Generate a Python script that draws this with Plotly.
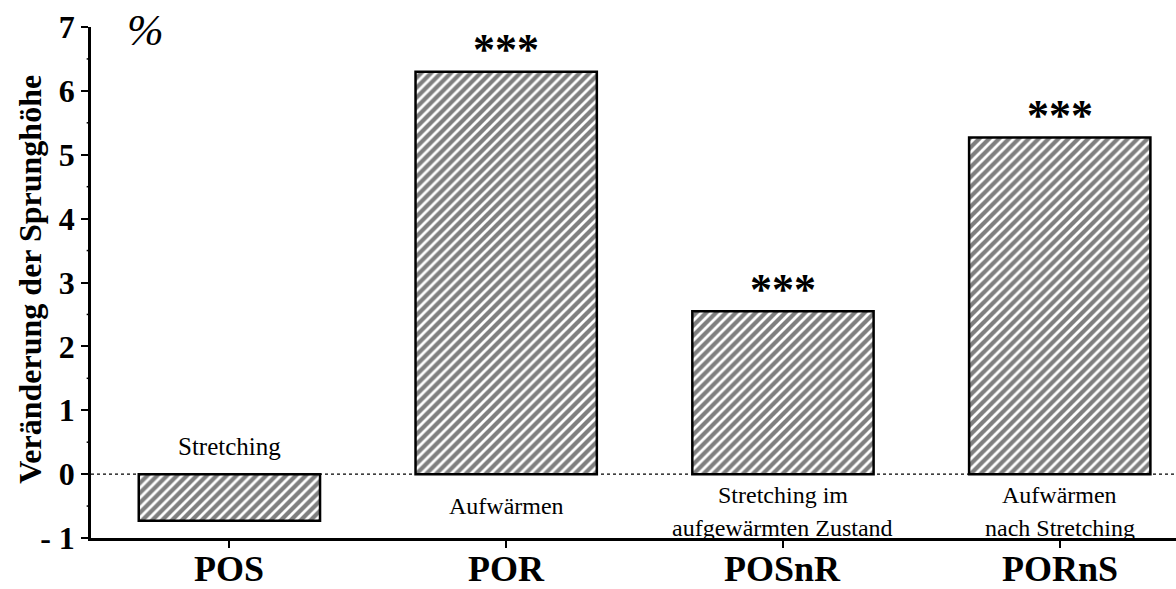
import plotly.graph_objects as go

categories = ["POS", "POR", "POSnR", "PORnS"]
values = [-0.73, 6.3, 2.55, 5.27]
significance = ["", "***", "***", "***"]
desc_line1 = ["Stretching", "Aufwärmen", "Stretching im", "Aufwärmen"]
desc_line2 = ["", "", "aufgewärmten Zustand", "nach Stretching"]
y_ticks = [-1, 0, 1, 2, 3, 4, 5, 6, 7]
y_tick_labels = ["- 1", "0", "1", "2", "3", "4", "5", "6", "7"]
y_minor = [-0.5, 0.5, 1.5, 2.5, 3.5, 4.5, 5.5, 6.5]

SERIF = "Liberation Serif, Times New Roman, serif"

fig = go.Figure()
fig.add_trace(go.Bar(
    x=categories, y=values, width=0.655,
    marker=dict(color="white", line=dict(color="black", width=2.5),
                pattern=dict(shape="/", fgcolor="black", bgcolor="white", size=7, solidity=0.6)),
    showlegend=False,
))

# zero dotted line
fig.add_shape(type="line", xref="paper", x0=0, x1=1, yref="y", y0=0, y1=0,
              line=dict(color="black", width=1.2, dash="dot"), layer="below")

# minor ticks on y-axis
for m in y_minor:
    fig.add_shape(type="line", xref="paper", x0=-0.004, x1=0, yref="y", y0=m, y1=m,
                  line=dict(color="black", width=1.5))

# category labels below x-axis
for c in categories:
    fig.add_annotation(x=c, yref="paper", y=0, text="<b>" + c + "</b>", showarrow=False,
                       yanchor="top", yshift=-9,
                       font=dict(family=SERIF, size=36, color="black"))

# significance stars
for c, v, s in zip(categories, values, significance):
    if s:
        fig.add_annotation(x=c, y=v, text="<b>" + s + "</b>", showarrow=False,
                           yanchor="middle", yshift=22,
                           font=dict(family=SERIF, size=44, color="black"))

# descriptions
for c, v, d1, d2 in zip(categories, values, desc_line1, desc_line2):
    if v < 0:
        fig.add_annotation(x=c, y=0, text=d1, showarrow=False, yanchor="middle", yshift=28,
                           font=dict(family=SERIF, size=25, color="black"))
    elif d2:
        fig.add_annotation(x=c, y=0, text=d1, showarrow=False, yanchor="middle", yshift=-21,
                           font=dict(family=SERIF, size=24, color="black"))
        fig.add_annotation(x=c, y=0, text=d2, showarrow=False, yanchor="middle", yshift=-54,
                           font=dict(family=SERIF, size=24, color="black"))
    else:
        fig.add_annotation(x=c, y=0, text=d1, showarrow=False, yanchor="middle", yshift=-32,
                           font=dict(family=SERIF, size=24, color="black"))

# percent sign
fig.add_annotation(xref="paper", yref="paper", x=0.05, y=0.994, text="<i>%</i>", showarrow=False,
                   xanchor="center", yanchor="middle",
                   font=dict(family=SERIF, size=44, color="black"))

# y-axis title
fig.add_annotation(xref="paper", yref="paper", x=-0.0563, y=0.507, text="<b>Veränderung der Sprunghöhe</b>",
                   showarrow=False, textangle=-90, xanchor="center", yanchor="middle",
                   font=dict(family=SERIF, size=32, color="black"))

fig.update_layout(
    width=1176, height=589,
    margin=dict(l=91, r=0, t=27, b=51, autoexpand=False),
    plot_bgcolor="white", paper_bgcolor="white",
    font=dict(family=SERIF, color="black"),
)
fig.update_xaxes(
    range=[-0.5, 3.42], showline=True, linecolor="black", linewidth=2.5,
    ticks="outside", ticklen=7, tickwidth=2, tickcolor="black",
    tickvals=categories, showticklabels=False,
    showgrid=False, zeroline=False, automargin=False,
)
fig.update_yaxes(
    range=[-1, 7], showline=True, linecolor="black", linewidth=2.5,
    ticks="outside", ticklen=7, tickwidth=2, tickcolor="black",
    tickvals=y_ticks, ticktext=["<b>" + t + "</b>" for t in y_tick_labels],
    tickfont=dict(family=SERIF, size=32, color="black"),
    showgrid=False, zeroline=False, automargin=False,
)

fig.write_html("out.html", config={"displayModeBar": False},
               post_script="document.body.style.margin='0';document.body.style.overflow='hidden';")
